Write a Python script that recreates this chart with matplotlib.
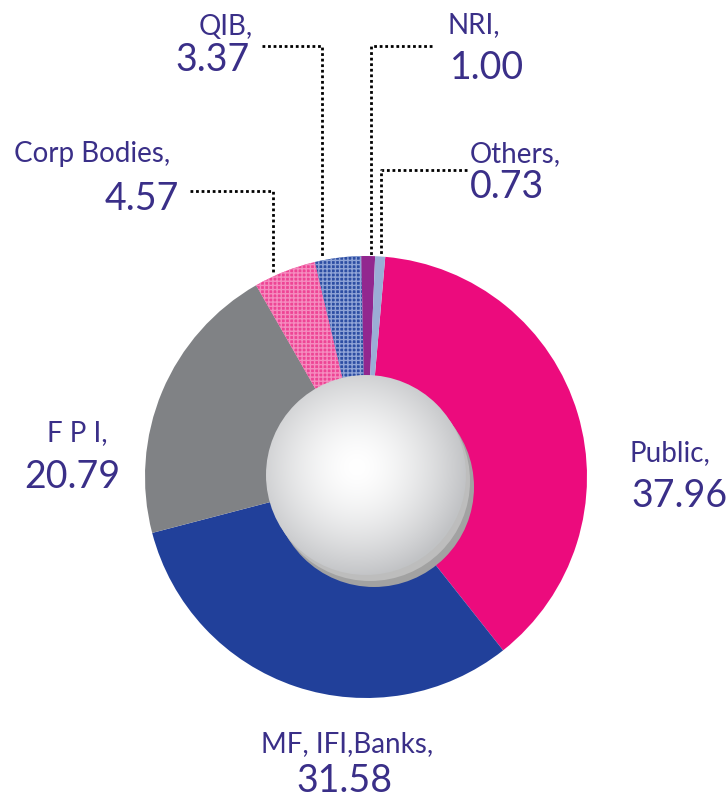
import matplotlib.pyplot as plt
import numpy as np
from matplotlib.patches import Circle

# data
names = ['Public', 'MF, IFI,Banks', 'F P I', 'Corp Bodies', 'QIB', 'NRI', 'Others']
values = [37.96, 31.58, 20.79, 4.57, 3.37, 1.00, 0.73]
colors = ['#ec0b7d', '#21409a', '#808285', '#ee4595', '#2d4ea3', '#92278f', '#9badd6']
hatches = [None, None, None, '++++', '++++', None, None]
hatch_cols = [None, None, None, '#f58cbf', '#8ea3d6', None, None]

W, H = 728, 799
txt_col = '#3a2f88'
plt.rcParams['font.family'] = ['Lato', 'DejaVu Sans']
plt.rcParams['hatch.linewidth'] = 1.0

fig = plt.figure(figsize=(W / 100, H / 100), dpi=100)
ax = fig.add_axes([0, 0, 1, 1])

def Y(py):
    return H - py

cx, cy, R = 366, 477, 221
wedges, _ = ax.pie(values, colors=colors, startangle=85, counterclock=False,
                   radius=R, center=(cx, Y(cy)), wedgeprops=dict(linewidth=0))
for w, h, hc in zip(wedges, hatches, hatch_cols):
    if h:
        w.set_hatch(h)
        w.set_edgecolor(hc)
        w.set_linewidth(0)

# centre ball with shadow
bx, by, br = 366, 475, 100
ax.add_patch(Circle((bx + 8, Y(by + 12)), br, color='#a2a2a2', lw=0, zorder=3))
ax.add_patch(Circle((bx + 4, Y(by + 6)), br, color='#bdbdbd', lw=0, zorder=3))
ball = Circle((bx, Y(by)), br, facecolor='none', lw=0, zorder=4)
ax.add_patch(ball)
gx, gy = np.meshgrid(np.linspace(bx - br, bx + br, 300), np.linspace(Y(by) - br, Y(by) + br, 300))
d = np.hypot(gx - (bx - 9), gy - Y(by - 8)) / (br * 1.1)
d = np.clip(d, 0, 1) ** 1.6
c0 = np.array([1.0, 1.0, 1.0])
c1 = np.array([0.76, 0.765, 0.775])
img = c0 + (c1 - c0) * d[..., None]
im = ax.imshow(img, extent=(bx - br, bx + br, Y(by) - br, Y(by) + br), origin='lower', zorder=4)
im.set_clip_path(ball)

# leader lines
leaders = [
    [(262, 46), (322, 46), (322, 257)],
    [(190, 191), (273, 191), (273, 272)],
    [(432, 46), (371, 46), (371, 255)],
    [(467, 170), (381, 170), (381, 255)],
]
for pts in leaders:
    xs = [p[0] for p in pts]
    ys = [Y(p[1]) for p in pts]
    ax.plot(xs, ys, color='black', lw=2, ls=(0, (1, 1)), zorder=2)

# labels
lab_pos = {
    'Public': ((630, 461, 'left'), (631, 507, 'left')),
    'MF, IFI,Banks': ((347, 752, 'center'), (344, 792, 'center')),
    'F P I': ((77, 441, 'center'), (72, 488, 'center')),
    'Corp Bodies': ((14, 162, 'left'), (179, 210, 'right')),
    'QIB': ((226, 35, 'center'), (250, 71, 'right')),
    'NRI': ((448, 33, 'left'), (450, 79, 'left')),
    'Others': ((470, 162, 'left'), (470, 198, 'left')),
}
for n, v in zip(names, values):
    (x1, y1, a1), (x2, y2, a2) = lab_pos[n]
    ax.text(x1, Y(y1), n + ',', ha=a1, va='baseline', fontsize=20, color=txt_col)
    ax.text(x2, Y(y2), f'{v:.2f}', ha=a2, va='baseline', fontsize=27, color=txt_col)

ax.set_xlim(0, W)
ax.set_ylim(0, H)
ax.set_aspect('equal')
ax.axis('off')

plt.savefig('out.png', dpi=100)
